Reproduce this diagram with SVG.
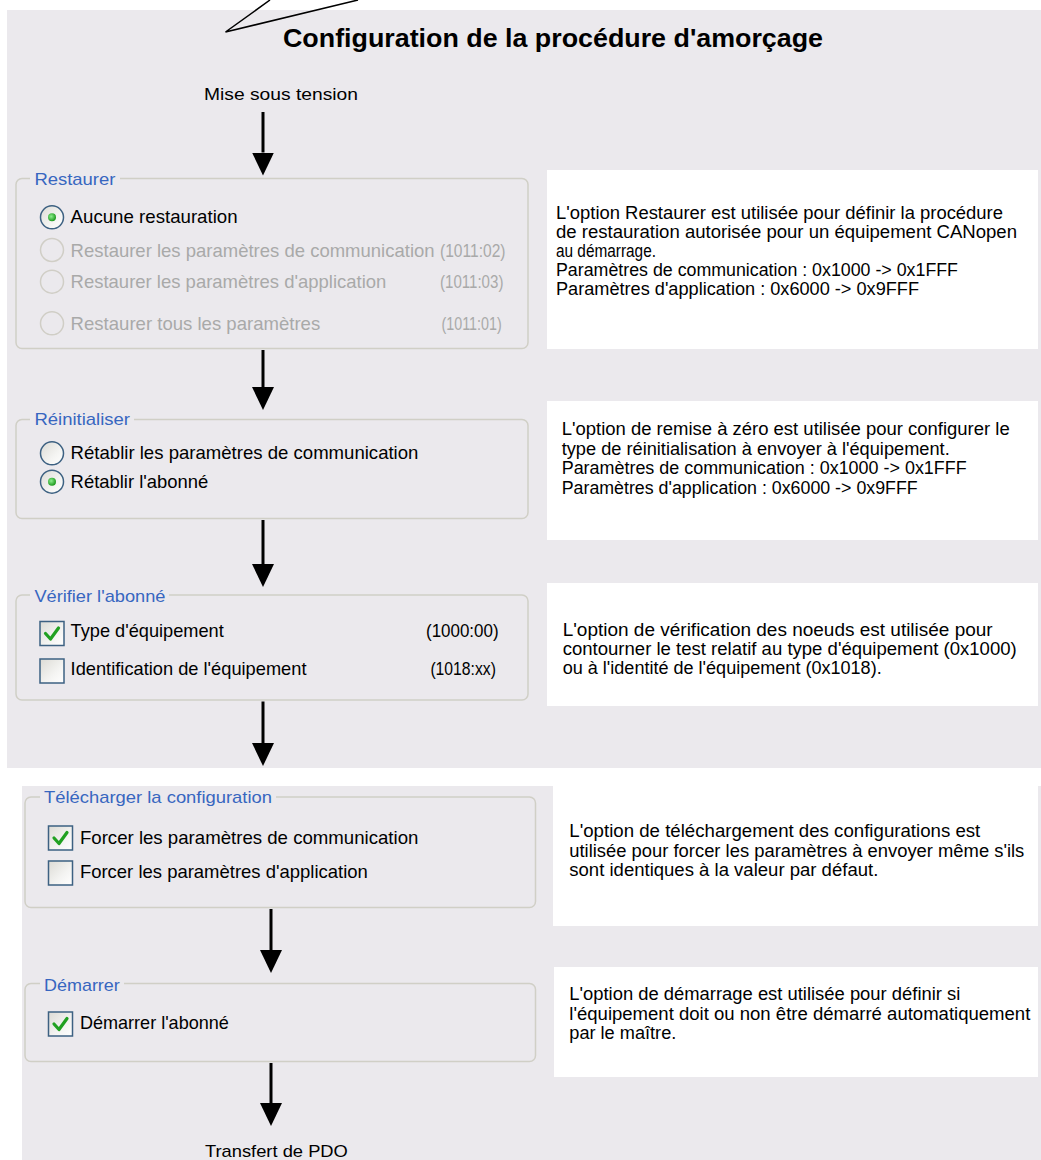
<svg xmlns="http://www.w3.org/2000/svg" width="1041" height="1160" viewBox="0 0 1041 1160">
  <style>
    .panel { fill: #ebe9ed; }
    .desc-box { fill: #ffffff; }
    .grp { fill: none; stroke: #d0cfc6; stroke-width: 1.5; }
    .legend-bg { fill: #ebe9ed; }
    .legend { font-family: "Liberation Sans", Arial, sans-serif; font-size: 17px; fill: #3766c0; }
    .item { font-family: "Liberation Sans", Arial, sans-serif; font-size: 18.5px; fill: #000; }
    .off { fill: #a9a9a9; }
    .desc { font-family: "Liberation Sans", Arial, sans-serif; font-size: 17.5px; fill: #000; }
    .label { font-family: "Liberation Sans", Arial, sans-serif; font-size: 17px; fill: #000; }
    .title { font-family: "Liberation Sans", Arial, sans-serif; font-size: 25px; font-weight: bold; fill: #000; }
    .radio { fill: url(#ctlFill); stroke: #3d6182; stroke-width: 1.5; }
    .radio-off { fill: none; stroke: #d0cec6; stroke-width: 1.5; }
    .dot { fill: url(#dotFill); }
    .check { fill: url(#ctlFill); stroke: #3d6182; stroke-width: 1.5; }
    .tick { fill: none; stroke: #21a121; stroke-width: 3.2; stroke-linecap: round; stroke-linejoin: round; }
    .flow { stroke: #000; stroke-width: 3; fill: none; marker-end: url(#head); }
    .callout { stroke: #000; stroke-width: 1.5; fill: none; }
  </style>
  <defs>
    <linearGradient id="ctlFill" x1="0" y1="0" x2="1" y2="1">
      <stop offset="0" stop-color="#dcdbd5"/>
      <stop offset="0.6" stop-color="#f4f4f2"/>
      <stop offset="1" stop-color="#ffffff"/>
    </linearGradient>
    <radialGradient id="dotFill" cx="0.4" cy="0.4" r="0.6">
      <stop offset="0" stop-color="#8ef08e"/>
      <stop offset="1" stop-color="#1f9a1f"/>
    </radialGradient>
    <marker id="head" viewBox="0 -11 23 22" refX="0" refY="0" markerWidth="23" markerHeight="22" markerUnits="userSpaceOnUse" orient="auto">
      <path d="M0,-11 L23,0 L0,11 z" fill="#000"/>
    </marker>
  </defs>

  <rect width="1041" height="1160" fill="#ffffff"/>
  <!-- background panels -->
  <rect class="panel" x="7" y="10" width="1034" height="758"/>
  <rect class="panel" x="22" y="786" width="1019" height="374"/>

  <!-- callout pointer -->
  <polyline class="callout" points="270,0 225.5,32 358,0"/>

  <g id="title">
    <text class="title" x="283" y="47" textLength="540" lengthAdjust="spacingAndGlyphs">Configuration de la procédure d'amorçage</text>
  </g>

  <g id="power-on">
    <text class="label" x="204" y="99.5" textLength="154" lengthAdjust="spacingAndGlyphs">Mise sous tension</text>
  </g>

  <!-- Restaurer -->
  <g id="restore">
    <rect class="grp" x="16" y="178.5" width="512" height="170" rx="6"/>
    <rect class="legend-bg" x="30" y="170" width="90" height="16"/>
    <text class="legend" x="34.4" y="185" textLength="81" lengthAdjust="spacingAndGlyphs">Restaurer</text>
    <circle class="radio" cx="52" cy="217.3" r="11.5"/>
    <circle class="dot" cx="52" cy="217.3" r="4"/>
    <text class="item" x="70.6" y="223.3" textLength="167" lengthAdjust="spacingAndGlyphs">Aucune restauration</text>
    <circle class="radio-off" cx="52" cy="250" r="11.5"/>
    <text class="item off" x="70.6" y="256.7" textLength="364" lengthAdjust="spacingAndGlyphs">Restaurer les paramètres de communication</text>
    <text class="item off" x="440" y="256.7" textLength="65.5" lengthAdjust="spacingAndGlyphs">(1011:02)</text>
    <circle class="radio-off" cx="52" cy="281.7" r="11.5"/>
    <text class="item off" x="70.6" y="288.3" textLength="315.8" lengthAdjust="spacingAndGlyphs">Restaurer les paramètres d'application</text>
    <text class="item off" x="440" y="288.3" textLength="63.4" lengthAdjust="spacingAndGlyphs">(1011:03)</text>
    <circle class="radio-off" cx="52" cy="323.3" r="11.5"/>
    <text class="item off" x="70.6" y="330" textLength="249.6" lengthAdjust="spacingAndGlyphs">Restaurer tous les paramètres</text>
    <text class="item off" x="441.5" y="330" textLength="60.2" lengthAdjust="spacingAndGlyphs">(1011:01)</text>
  </g>

  <g id="restore-info">
    <rect class="desc-box" x="547" y="170" width="491" height="179"/>
    <text class="desc" x="556" y="219" textLength="447" lengthAdjust="spacingAndGlyphs">L'option Restaurer est utilisée pour définir la procédure</text>
    <text class="desc" x="556" y="238" textLength="461" lengthAdjust="spacingAndGlyphs">de restauration autorisée pour un équipement CANopen</text>
    <text class="desc" x="556" y="257" textLength="100" lengthAdjust="spacingAndGlyphs">au démarrage.</text>
    <text class="desc" x="556" y="276" textLength="402" lengthAdjust="spacingAndGlyphs">Paramètres de communication : 0x1000 -&gt; 0x1FFF</text>
    <text class="desc" x="556" y="295" textLength="363" lengthAdjust="spacingAndGlyphs">Paramètres d'application : 0x6000 -&gt; 0x9FFF</text>
  </g>

  <!-- Réinitialiser -->
  <g id="reset">
    <rect class="grp" x="16" y="419.5" width="512" height="99" rx="6"/>
    <rect class="legend-bg" x="30" y="411" width="104" height="16"/>
    <text class="legend" x="34.4" y="425" textLength="95.6" lengthAdjust="spacingAndGlyphs">Réinitialiser</text>
    <circle class="radio" cx="52" cy="453.3" r="11.5"/>
    <text class="item" x="70.6" y="459.3" textLength="347.8" lengthAdjust="spacingAndGlyphs">Rétablir les paramètres de communication</text>
    <circle class="radio" cx="52" cy="481.7" r="11.5"/>
    <circle class="dot" cx="52" cy="481.7" r="4"/>
    <text class="item" x="70.6" y="487.7" textLength="137.7" lengthAdjust="spacingAndGlyphs">Rétablir l'abonné</text>
  </g>

  <g id="reset-info">
    <rect class="desc-box" x="547" y="401" width="491" height="139"/>
    <text class="desc" x="561.7" y="435" textLength="448" lengthAdjust="spacingAndGlyphs">L'option de remise à zéro est utilisée pour configurer le</text>
    <text class="desc" x="561.7" y="454.5" textLength="388" lengthAdjust="spacingAndGlyphs">type de réinitialisation à envoyer à l'équipement.</text>
    <text class="desc" x="561.7" y="474" textLength="405" lengthAdjust="spacingAndGlyphs">Paramètres de communication : 0x1000 -&gt; 0x1FFF</text>
    <text class="desc" x="561.7" y="493.5" textLength="356" lengthAdjust="spacingAndGlyphs">Paramètres d'application : 0x6000 -&gt; 0x9FFF</text>
  </g>

  <!-- Vérifier l'abonné -->
  <g id="check-node">
    <rect class="grp" x="16" y="595" width="512" height="105" rx="6"/>
    <rect class="legend-bg" x="30" y="587" width="139" height="16"/>
    <text class="legend" x="34.4" y="601.7" textLength="131" lengthAdjust="spacingAndGlyphs">Vérifier l'abonné</text>
    <rect class="check" x="40" y="621.5" width="24" height="24"/>
    <polyline class="tick" points="45.5,633.5 50.5,639 58.5,628"/>
    <text class="item" x="70.6" y="637.3" textLength="153.2" lengthAdjust="spacingAndGlyphs">Type d'équipement</text>
    <text class="item" x="426" y="637.3" textLength="72.6" lengthAdjust="spacingAndGlyphs">(1000:00)</text>
    <rect class="check" x="40" y="659" width="24" height="24"/>
    <text class="item" x="70.6" y="675" textLength="235.9" lengthAdjust="spacingAndGlyphs">Identification de l'équipement</text>
    <text class="item" x="430.4" y="675" textLength="65.5" lengthAdjust="spacingAndGlyphs">(1018:xx)</text>
  </g>

  <g id="check-node-info">
    <rect class="desc-box" x="547" y="583" width="491" height="123"/>
    <text class="desc" x="562.7" y="636" textLength="430" lengthAdjust="spacingAndGlyphs">L'option de vérification des noeuds est utilisée pour</text>
    <text class="desc" x="562.7" y="655" textLength="454" lengthAdjust="spacingAndGlyphs">contourner le test relatif au type d'équipement (0x1000)</text>
    <text class="desc" x="562.7" y="674" textLength="319" lengthAdjust="spacingAndGlyphs">ou à l'identité de l'équipement (0x1018).</text>
  </g>

  <!-- Télécharger la configuration -->
  <g id="download">
    <rect class="grp" x="25" y="797" width="510.5" height="110.5" rx="6"/>
    <rect class="legend-bg" x="40" y="789" width="236" height="16"/>
    <text class="legend" x="44" y="803.3" textLength="228" lengthAdjust="spacingAndGlyphs">Télécharger la configuration</text>
    <rect class="check" x="48.5" y="826" width="24" height="24"/>
    <polyline class="tick" points="54,838 59,843.5 67,832.5"/>
    <text class="item" x="79.9" y="844" textLength="338.5" lengthAdjust="spacingAndGlyphs">Forcer les paramètres de communication</text>
    <rect class="check" x="48.5" y="861" width="24" height="24"/>
    <text class="item" x="79.9" y="878.3" textLength="287.9" lengthAdjust="spacingAndGlyphs">Forcer les paramètres d'application</text>
  </g>

  <g id="download-info">
    <rect class="desc-box" x="553" y="778" width="485" height="148"/>
    <text class="desc" x="569.3" y="837" textLength="411" lengthAdjust="spacingAndGlyphs">L'option de téléchargement des configurations est</text>
    <text class="desc" x="569.3" y="856.5" textLength="455" lengthAdjust="spacingAndGlyphs">utilisée pour forcer les paramètres à envoyer même s'ils</text>
    <text class="desc" x="569.3" y="876" textLength="309" lengthAdjust="spacingAndGlyphs">sont identiques à la valeur par défaut.</text>
  </g>

  <!-- Démarrer -->
  <g id="start">
    <rect class="grp" x="25" y="983.5" width="510.5" height="78" rx="6"/>
    <rect class="legend-bg" x="40" y="976" width="84" height="16"/>
    <text class="legend" x="44" y="990.7" textLength="75.8" lengthAdjust="spacingAndGlyphs">Démarrer</text>
    <rect class="check" x="48.5" y="1012" width="24" height="24"/>
    <polyline class="tick" points="54,1024 59,1029.5 67,1018.5"/>
    <text class="item" x="79.9" y="1029.3" textLength="149" lengthAdjust="spacingAndGlyphs">Démarrer l'abonné</text>
  </g>

  <g id="start-info">
    <rect class="desc-box" x="554" y="967" width="484" height="110"/>
    <text class="desc" x="569.3" y="1000" textLength="391" lengthAdjust="spacingAndGlyphs">L'option de démarrage est utilisée pour définir si</text>
    <text class="desc" x="569.3" y="1019.5" textLength="461" lengthAdjust="spacingAndGlyphs">l'équipement doit ou non être démarré automatiquement</text>
    <text class="desc" x="569.3" y="1039" textLength="107" lengthAdjust="spacingAndGlyphs">par le maître.</text>
  </g>

  <g id="pdo-transfer">
    <text class="label" x="204.9" y="1157" textLength="143" lengthAdjust="spacingAndGlyphs">Transfert de PDO</text>
  </g>

  <!-- flow arrows between steps -->
  <g id="connectors">
    <line class="flow" x1="263" y1="112" x2="263" y2="152.5"/>
    <line class="flow" x1="263" y1="350" x2="263" y2="387"/>
    <line class="flow" x1="263" y1="520" x2="263" y2="564"/>
    <line class="flow" x1="263" y1="701.5" x2="263" y2="743"/>
    <line class="flow" x1="271" y1="909" x2="271" y2="950"/>
    <line class="flow" x1="271" y1="1063" x2="271" y2="1103"/>
  </g>
</svg>
